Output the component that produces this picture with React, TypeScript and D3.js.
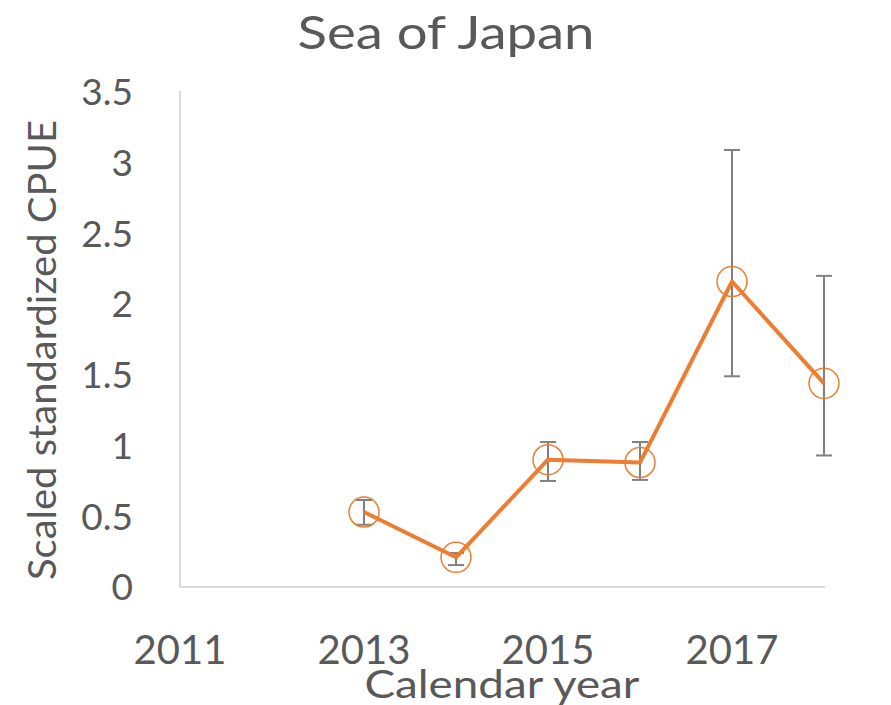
import React from "react";
import * as d3 from "d3";

const years = [2013, 2014, 2015, 2016, 2017, 2018];
const cpue = [0.53, 0.21, 0.9, 0.88, 2.16, 1.44];
const errLow = [0.44, 0.155, 0.75, 0.757, 1.49, 0.93];
const errHigh = [0.615, 0.24, 1.025, 1.025, 3.09, 2.2];
const yTicks = [0, 0.5, 1, 1.5, 2, 2.5, 3, 3.5];
const xTicks = [2011, 2013, 2015, 2017];

const W = 891;
const H = 705;
const left = 180;
const right = 824;
const top = 92;
const bottom = 587;
const textColor = "#595959";
const orange = "#ED7D31";
const font = "Lato, 'Open Sans', sans-serif";

export default function App() {
  const x = d3.scaleLinear().domain([2011, 2018]).range([left, right]);
  const y = d3.scaleLinear().domain([0, 3.5]).range([bottom, top]);
  const line = d3
    .line<number>()
    .x((_, i) => x(years[i]))
    .y((d) => y(d));
  const capW = 8;

  return (
    <div style={{ position: "absolute", left: 0, top: 0 }}>
      <svg width={W} height={H} style={{ display: "block", background: "#fff" }}>
        <text x={446} y={49} textAnchor="middle" fontFamily={font} fontSize={46} fill={textColor}
          textLength={297} lengthAdjust="spacingAndGlyphs">
          Sea of Japan
        </text>
        {/* axes */}
        <line x1={left} y1={top - 1} x2={left} y2={bottom} stroke="#d9d9d9" strokeWidth={2} />
        <line x1={left} y1={bottom} x2={right + 1} y2={bottom} stroke="#d9d9d9" strokeWidth={2} />
        {yTicks.map((t) => (
          <text key={t} x={133} y={y(t)} dy="0.36em" textAnchor="end" fontFamily={font} fontSize={37} fill={textColor}>
            {t}
          </text>
        ))}
        {xTicks.map((t) => (
          <text key={t} x={x(t)} y={664} textAnchor="middle" fontFamily={font} fontSize={40} fill={textColor}>
            {t}
          </text>
        ))}
        <text x={502} y={698} textAnchor="middle" fontFamily={font} fontSize={39} fill={textColor}
          textLength={275} lengthAdjust="spacingAndGlyphs">
          Calendar year
        </text>
        <text
          transform={`translate(56, 350) rotate(-90)`}
          textAnchor="middle"
          fontFamily={font}
          fontSize={38}
          fill={textColor}
          textLength={460}
          lengthAdjust="spacingAndGlyphs"
        >
          Scaled standardized CPUE
        </text>
        {/* error bars */}
        {years.map((yr, i) => (
          <g key={yr} stroke="#808080" strokeWidth={2}>
            <line x1={x(yr)} x2={x(yr)} y1={y(errLow[i])} y2={y(errHigh[i])} />
            <line x1={x(yr) - capW} x2={x(yr) + capW} y1={y(errLow[i])} y2={y(errLow[i])} />
            <line x1={x(yr) - capW} x2={x(yr) + capW} y1={y(errHigh[i])} y2={y(errHigh[i])} />
          </g>
        ))}
        <path d={line(cpue) || ""} fill="none" stroke={orange} strokeWidth={4} strokeLinejoin="round" />
        {years.map((yr, i) => (
          <circle key={yr} cx={x(yr)} cy={y(cpue[i])} r={15} fill="none" stroke={orange} strokeWidth={1.5} />
        ))}
      </svg>
    </div>
  );
}
